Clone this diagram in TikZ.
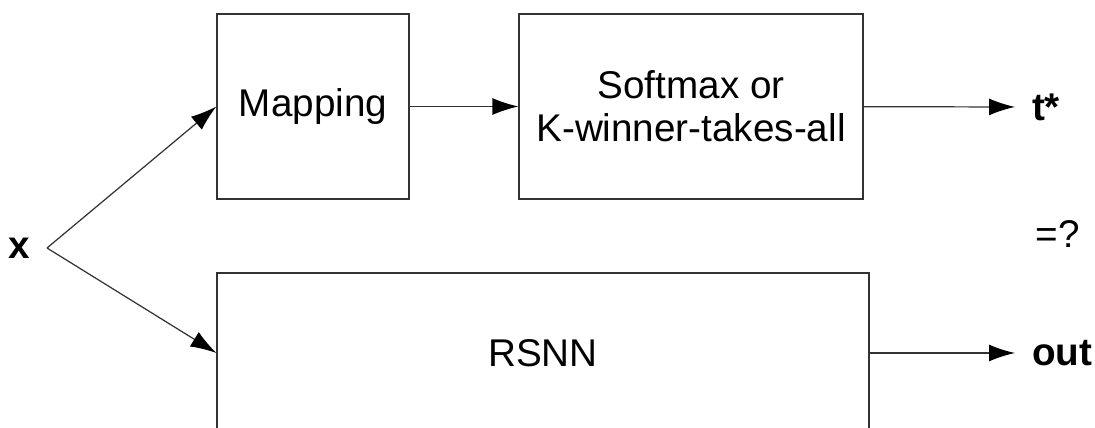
\documentclass[tikz,border=0pt]{standalone}
\usepackage{fontspec}
\setmainfont{Liberation Sans}
\usepackage{tikz}
\usetikzlibrary{arrows.meta, positioning}

\begin{document}
\begin{tikzpicture}[x=0.02cm, y=-0.02cm]
\tikzstyle{block}=[draw=black!80, line width=0.7pt, fill=white, align=center, inner sep=0pt]
\tikzstyle{lbl}=[inner xsep=9.5pt, inner ysep=0pt]
\tikzstyle{flow}=[draw=black!80, line width=0.7pt, -{Latex[length=5.2mm, width=3.4mm, black]}]
\clip (0,0) rectangle (1095,428);
\fontsize{22}{24.5}\selectfont
\node[block, minimum width=3.84cm, minimum height=3.7cm] (map) at (313,106.5) {Mapping};
\node[block, minimum width=6.88cm, minimum height=3.7cm] (soft) at (691,106.5) {Softmax or\\K-winner-takes-all};
\node[block, minimum width=13.04cm, minimum height=3.2cm] (rsnn) at (543,353) {RSNN};
\node[lbl, anchor=east] (x) at (47,248) {\textbf{x}};
\node[lbl, anchor=west] (tstar) at (1015,107) {\textbf{t*}};
\node[lbl, anchor=west] (out) at (1015,353) {\textbf{out}};
\node (eq) at (1058,234) {=?};
\draw[flow] (x.east) -- (map.west);
\draw[flow] (x.east) -- (rsnn.west);
\draw[flow] (map) -- (soft);
\draw[flow] (soft) -- (tstar);
\draw[flow] (rsnn.east |- out) -- (out);
\end{tikzpicture}
\end{document}
